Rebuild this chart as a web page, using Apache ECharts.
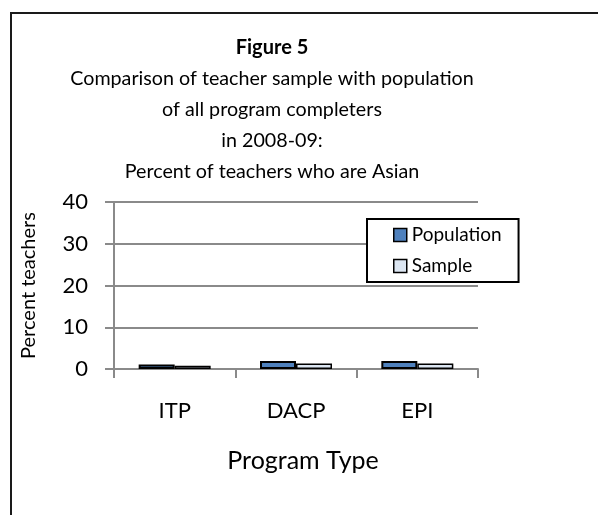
<!DOCTYPE html>
<html>
<head>
<meta charset="utf-8">
<script src="https://cdn.jsdelivr.net/npm/echarts@6/dist/echarts.min.js"></script>
<style>
  html, body { margin: 0; padding: 0; background: #fff; }
  #chart { width: 598px; height: 515px; }
</style>
</head>
<body>
<div id="chart"></div>
<script>
// Program types on the category axis
const categories = ['ITP', 'DACP', 'EPI'];
// Percent of teachers who are Asian
const populationValues = [1.1, 1.9, 1.9];
const sampleValues = [0.8, 1.3, 1.3];
// Value axis ticks
const yTicks = [0, 10, 20, 30, 40];

const titleLines = [
  'Comparison of teacher sample with population',
  'of all program completers',
  'in 2008-09:',
  'Percent of teachers who are Asian'
];

const FONT = 'Lato, "Open Sans", sans-serif';
const GRID_GRAY = '#8a8a8a';

const chart = echarts.init(document.getElementById('chart'), null, { renderer: 'canvas' });

chart.setOption({
  animation: false,
  backgroundColor: '#fff',
  textStyle: { fontFamily: FONT, color: '#000' },
  graphic: [{
    type: 'rect',
    shape: { x: 11, y: 13, width: 640, height: 560 },
    style: { fill: 'none', stroke: '#1a1a1a', lineWidth: 2 },
    z: 0
  }],
  title: {
    left: 267,
    top: 27,
    textAlign: 'center',
    text: '{b|Figure 5}\n' + titleLines.map(l => '{n|' + l + '}').join('\n'),
    textStyle: {
      fontWeight: 'normal',
      rich: {
        b: { fontFamily: FONT, fontSize: 20, fontWeight: 'bold', lineHeight: 31, color: '#000' },
        n: { fontFamily: FONT, fontSize: 19.7, fontWeight: 'normal', lineHeight: 31, color: '#000' }
      }
    }
  },
  legend: {
    orient: 'vertical',
    left: 367,
    top: 219,
    backgroundColor: '#fff',
    borderColor: '#000',
    borderWidth: 2,
    borderRadius: 0,
    padding: [5, 17, 5, 26],
    itemWidth: 13,
    itemHeight: 13,
    itemGap: 9,
    icon: 'rect',
    itemStyle: { borderColor: '#000', borderWidth: 1.5 },
    textStyle: { fontFamily: FONT, fontSize: 19, lineHeight: 22, color: '#000' },
    data: ['Population', 'Sample']
  },
  grid: { left: 114, top: 202, width: 364, height: 167, containLabel: false },
  xAxis: {
    type: 'category',
    data: categories,
    name: 'Program Type',
    nameLocation: 'middle',
    nameGap: 79,
    nameTextStyle: { fontFamily: FONT, fontSize: 25, color: '#000', padding: [0, 0, 0, 14] },
    axisLine: { show: true, lineStyle: { color: GRID_GRAY, width: 2 } },
    axisTick: { show: true, length: 9, lineStyle: { color: GRID_GRAY, width: 2 } },
    axisLabel: { margin: 31, fontFamily: FONT, fontSize: 22, color: '#000' },
    splitLine: { show: false }
  },
  yAxis: {
    type: 'value',
    min: yTicks[0],
    max: yTicks[yTicks.length - 1],
    interval: yTicks[1] - yTicks[0],
    name: 'Percent teachers',
    nameLocation: 'middle',
    nameGap: 75,
    nameTextStyle: { fontFamily: FONT, fontSize: 20, color: '#000' },
    axisLine: { show: true, lineStyle: { color: GRID_GRAY, width: 2 } },
    axisTick: { show: true, length: 9, lineStyle: { color: GRID_GRAY, width: 2 } },
    axisLabel: { margin: 26, fontFamily: FONT, fontSize: 22, color: '#000' },
    splitLine: { show: true, lineStyle: { color: GRID_GRAY, width: 2 } }
  },
  series: [
    {
      name: 'Population',
      type: 'bar',
      data: populationValues,
      barWidth: 36,
      barGap: '0%',
      itemStyle: { color: '#4F81BD', borderColor: '#000', borderWidth: 2 }
    },
    {
      name: 'Sample',
      type: 'bar',
      data: sampleValues,
      barWidth: 36,
      barGap: '0%',
      itemStyle: { color: '#DCE6F2', borderColor: '#000', borderWidth: 1.5 }
    }
  ]
});
</script>
</body>
</html>
